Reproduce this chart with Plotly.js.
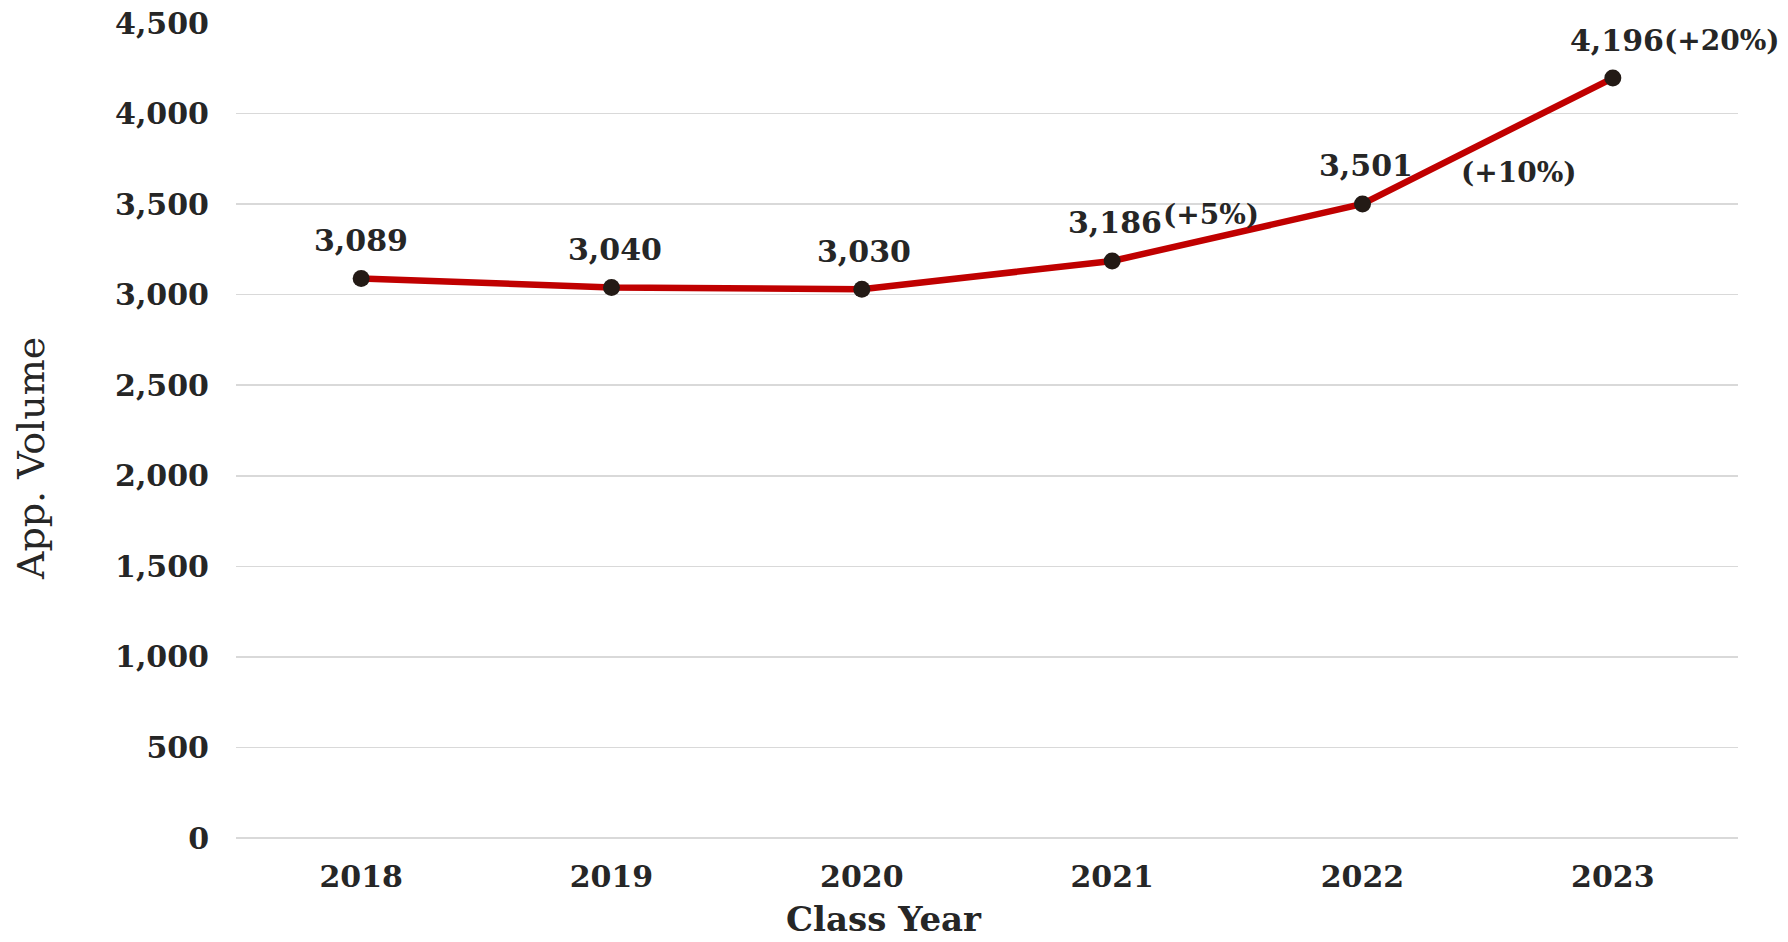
<!DOCTYPE html>
<html>
<head>
<meta charset="utf-8">
<script src="https://cdn.plot.ly/plotly-3.0.1.min.js"></script>
<style>
  html, body { margin: 0; padding: 0; background: #ffffff; }
  #chart { width: 1788px; height: 942px; }
</style>
</head>
<body>
<div id="chart"></div>
<script>
// Application volume by class year
const classYears = ['2018', '2019', '2020', '2021', '2022', '2023'];
const appVolume = [3089, 3040, 3030, 3186, 3501, 4196];
// Year-over-year growth notes for the last three years
const growthYears = ['2021', '2022', '2023'];
const growthLabels = ['(+5%)', '(+10%)', '(+20%)'];
const yTickValues = [0, 500, 1000, 1500, 2000, 2500, 3000, 3500, 4000, 4500];

const boldSerif = 'DejaVu Serif, Georgia, serif';
const textColor = '#262626';

const trace = {
  type: 'scatter',
  mode: 'lines+markers',
  x: classYears,
  y: appVolume,
  line: { color: '#c00000', width: 6.5 },
  marker: { color: '#231a15', size: 17 },
  hoverinfo: 'x+y',
  cliponaxis: false
};

// value labels above each point (x given as category index)
const valueNotes = classYears.map((yr, i) => ({
  x: i, y: appVolume[i], xref: 'x', yref: 'y',
  text: appVolume[i].toLocaleString('en-US'),
  showarrow: false,
  yshift: 38, xshift: [0, 3, 2, 3, 3, 4][i],
  font: { family: boldSerif, size: 30, color: textColor, weight: 'bold' }
}));

// growth labels placed beside the value labels
const growthOffsets = [[99, 46], [156, 31], [109, 38]];
const growthNotes = growthYears.map((yr, i) => {
  const idx = classYears.indexOf(yr);
  return {
    x: idx, y: appVolume[idx], xref: 'x', yref: 'y',
    text: growthLabels[i],
    showarrow: false,
    xshift: growthOffsets[i][0], yshift: growthOffsets[i][1],
    font: { family: boldSerif, size: 28, color: textColor, weight: 'bold' }
  };
});

// axis titles as free text so they can sit off-centre
const yTitle = {
  text: 'App. Volume',
  xref: 'paper', yref: 'paper',
  x: 0, y: 0.465,
  xshift: -205,
  xanchor: 'center', yanchor: 'middle',
  textangle: -90,
  showarrow: false,
  font: { family: 'DejaVu Serif, Georgia, serif', size: 38, color: textColor }
};
const xTitle = {
  text: 'Class Year',
  xref: 'paper', yref: 'paper',
  x: 0.4314, y: 0,
  yshift: -81,
  xanchor: 'center', yanchor: 'middle',
  showarrow: false,
  font: { family: boldSerif, size: 34, color: textColor, weight: 'bold' }
};

const layout = {
  width: 1788,
  height: 942,
  margin: { l: 236, r: 50, t: 23, b: 104, pad: 0 },
  paper_bgcolor: '#ffffff',
  plot_bgcolor: '#ffffff',
  showlegend: false,
  xaxis: {
    type: 'category',
    range: [-0.5, 5.5],
    showgrid: false,
    zeroline: false,
    showline: false,
    ticks: '',
    ticklabelstandoff: 18,
    tickfont: { family: boldSerif, size: 30, color: textColor, weight: 'bold' }
  },
  yaxis: {
    range: [0, 4500],
    tickvals: yTickValues,
    ticktext: yTickValues.map(v => v.toLocaleString('en-US')),
    showgrid: true,
    gridcolor: '#d9d9d9',
    gridwidth: 1.5,
    zeroline: true,
    zerolinecolor: '#d9d9d9',
    zerolinewidth: 1.5,
    showline: false,
    ticks: '',
    ticklabelstandoff: 26,
    tickfont: { family: boldSerif, size: 30, color: textColor, weight: 'bold' }
  },
  annotations: valueNotes.concat(growthNotes, [yTitle, xTitle])
};

Plotly.newPlot('chart', [trace], layout, { displayModeBar: false, staticPlot: true });
</script>
</body>
</html>
